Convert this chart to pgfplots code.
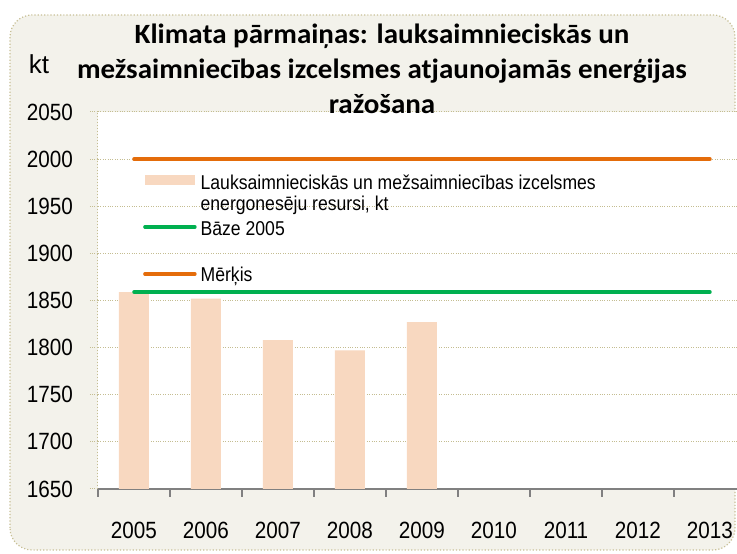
\documentclass[border=0pt]{standalone}
\usepackage{pgfplots}
\pgfplotsset{compat=1.18}
\usepackage{fontspec}
\setmainfont{Liberation Sans}[FakeStretch=0.88]
\newfontfamily\plainsans{Liberation Sans}
\newfontfamily\titlefont{Carlito}[FakeStretch=1.04]
\definecolor{bgfill}{RGB}{243,242,235}
\definecolor{bgline}{RGB}{200,192,150}
\definecolor{gridc}{RGB}{196,189,145}
\definecolor{barc}{RGB}{248,216,192}
\definecolor{greenc}{RGB}{0,176,80}
\definecolor{orangec}{RGB}{228,108,10}
\definecolor{axisgray}{RGB}{128,128,128}
\begin{document}
\begin{tikzpicture}[x=1pt,y=1pt]
\draw[bgline, dotted, line width=1.2pt, fill=bgfill, rounded corners=22pt] (-88,-61) rectangle (637,474);
\begin{axis}[
  at={(0,0)}, anchor=south west,
  scale only axis, width=648pt, height=377pt,
  xmin=-0.5, xmax=8.5, ymin=1650, ymax=2050,
  axis background/.style={fill=white},
  axis lines=left,
  x axis line style={-, axisgray, line width=1.5pt},
  y axis line style={-, gridc, dotted, line width=1pt},
  ytick={1650,1700,...,2050},
  xtick={0,...,8},
  xticklabels={2005,2006,2007,2008,2009,2010,2011,2012,2013},
  minor xtick={-0.5,0.5,...,8.5},
  major tick length=8pt, minor tick length=8pt, tick align=outside,
  major x tick style={draw=none},
  minor x tick style={axisgray, line width=1.2pt},
  ytick style={gridc, dotted, line width=1pt},
  ymajorgrids, grid style={gridc, dotted, line width=1pt},
  /pgf/number format/assume math mode=true,
  /pgf/number format/1000 sep={},
  ticklabel style={font=\fontsize{23.5}{26}\selectfont},
  yticklabel style={anchor=east, inner sep=0pt, xshift=-17pt},
  xticklabel style={anchor=north, inner sep=0pt, yshift=-25pt},
  ylabel={kt},
  ylabel style={rotate=-90, at={(axis description cs:-0.0910,1.1034)}, anchor=base, inner sep=0pt, font=\plainsans\fontsize{26}{28}\selectfont},
  title={Klimata pārmaiņas: lauksaimnieciskās un\\mežsaimniecības izcelsmes atjaunojamās enerģijas\\ražošana},
  title style={at={(rel axis cs:0.4383,1)}, anchor=south, inner sep=0pt, align=center, yshift=-7.5pt, font=\titlefont\bfseries\fontsize{27.9}{35}\selectfont},
  legend style={at={(axis description cs:0.0694,0.836)}, anchor=north west, draw=none, fill=none, inner sep=0pt, row sep=30.5pt, column sep=4pt, nodes={inner sep=0pt}, font=\fontsize{20}{21.5}\selectfont},
  legend cell align=left,
]
\addplot[ybar, bar width=30pt, fill=barc, draw=none,
  legend image code/.code={\fill[barc] (2pt,-3pt) rectangle (52pt,7pt);}]
  coordinates {(0,1859) (1,1852) (2,1808) (3,1797) (4,1827)};
\addlegendentry{\begin{tabular}[t]{@{}l@{}}Lauksaimnieciskās un mežsaimniecības izcelsmes\\energonesēju resursi, kt\end{tabular}}
\addplot[greenc, line width=3.5pt, line cap=round,
  legend image code/.code={\draw[greenc, line width=3.5pt, line cap=round] (2pt,2pt) -- (52pt,2pt);}]
  coordinates {(0,1859) (8,1859)};
\addlegendentry{Bāze 2005}
\addplot[orangec, line width=3.5pt, line cap=round,
  legend image code/.code={\draw[orangec, line width=3.5pt, line cap=round] (2pt,1pt) -- (52pt,1pt);}]
  coordinates {(0,2000) (8,2000)};
\addlegendentry{Mērķis}
\end{axis}
\pgfresetboundingbox
\path[use as bounding box] (-98,-65) rectangle (639,489);
\end{tikzpicture}
\end{document}
